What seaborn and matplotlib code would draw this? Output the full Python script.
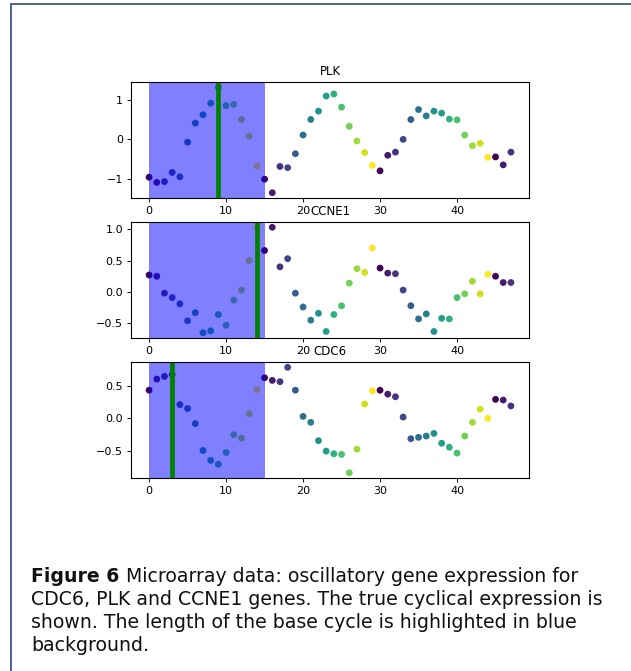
import matplotlib
matplotlib.use("Agg")
import matplotlib.pyplot as plt
from matplotlib.lines import Line2D
import pandas as pd
import seaborn as sns

# Time index of each microarray sample
time_points = list(range(48))
# Length of the base cycle (highlighted span and colour cycle)
cycle_length = 15

genes = ["PLK", "CCNE1", "CDC6"]

plk = [-0.95, -1.08, -1.06, -0.83, -0.94, -0.07, 0.41, 0.62, 0.91, 1.31,
       0.85, 0.88, 0.50, 0.08, -0.67, -1.00, -1.34, -0.68, -0.71, -0.36,
       0.11, 0.50, 0.71, 1.09, 1.14, 0.81, 0.33, -0.04, -0.33, -0.65,
       -0.79, -0.40, -0.32, 0.00, 0.50, 0.75, 0.59, 0.71, 0.66, 0.51,
       0.49, 0.11, -0.16, -0.10, -0.45, -0.44, -0.64, -0.32]

ccne1 = [0.27, 0.25, -0.02, -0.09, -0.19, -0.46, -0.33, -0.65, -0.62, -0.36,
         -0.53, -0.13, 0.03, 0.50, 1.03, 0.66, 1.03, 0.40, 0.53, -0.02,
         -0.24, -0.45, -0.34, -0.63, -0.36, -0.22, 0.14, 0.37, 0.31, 0.70,
         0.38, 0.30, 0.29, 0.03, -0.22, -0.43, -0.35, -0.63, -0.42, -0.43,
         -0.09, -0.03, 0.17, -0.03, 0.28, 0.25, 0.15, 0.15]

cdc6 = [0.43, 0.60, 0.64, 0.67, 0.21, 0.15, -0.08, -0.49, -0.64, -0.70,
        -0.52, -0.25, -0.30, 0.07, 0.44, 0.62, 0.58, 0.56, 0.78, 0.43,
        0.03, -0.06, -0.34, -0.50, -0.54, -0.55, -0.83, -0.47, 0.22, 0.42,
        0.43, 0.37, 0.33, 0.02, -0.31, -0.29, -0.27, -0.23, -0.38, -0.44,
        -0.53, -0.27, -0.06, 0.14, 0.00, 0.29, 0.28, 0.19]

# Estimated position of the true cyclical expression for each gene
true_phase = [9, 14, 3]

x_ticks = [0, 10, 20, 30, 40]
y_ticks = [[-1, 0, 1], [-0.5, 0.0, 0.5, 1.0], [-0.5, 0.0, 0.5]]

caption_lines = [
    ("Figure 6", "Microarray data: oscillatory gene expression for"),
    ("", "CDC6, PLK and CCNE1 genes. The true cyclical expression is"),
    ("", "shown. The length of the base cycle is highlighted in blue"),
    ("", "background."),
]

series = [plk, ccne1, cdc6]

plt.rcParams.update({
    "font.family": "DejaVu Sans",
    "font.size": 8,
    "axes.titlesize": 8.5,
    "axes.linewidth": 0.8,
    "xtick.labelsize": 8,
    "ytick.labelsize": 8,
    "xtick.major.size": 2.8,
    "ytick.major.size": 2.8,
    "xtick.major.width": 0.65,
    "ytick.major.width": 0.65,
    "xtick.major.pad": 2.8,
    "ytick.major.pad": 2.8,
    "axes.titlepad": 4.8,
})

fig = plt.figure(figsize=(6.31, 6.71), dpi=100)
axes = fig.subplots(3, 1)
fig.subplots_adjust(left=0.2076, right=0.8384, top=0.8778, bottom=0.2876,
                    hspace=0.207)

for ax, gene, values, phase, yt in zip(axes, genes, series, true_phase, y_ticks):
    df = pd.DataFrame({
        "time": time_points,
        "expression": values,
        "cycle_position": [t % cycle_length for t in time_points],
    })
    sns.scatterplot(data=df, x="time", y="expression", hue="cycle_position",
                    palette="viridis", s=24, linewidth=0, legend=False, ax=ax)
    ax.axvspan(0, cycle_length, color="blue", alpha=0.5, linewidth=0)
    ax.axvline(phase, color="green", linewidth=3.4)
    ax.set_title(gene)
    ax.set_xlabel("")
    ax.set_ylabel("")
    ax.set_xticks(x_ticks)
    ax.set_yticks(yt)

# Document frame around the figure
frame_color = "#4d6488"
fig.add_artist(Line2D([10.5 / 631, 1.0], [1 - 4 / 671, 1 - 4 / 671],
                      transform=fig.transFigure, color=frame_color, linewidth=1.4))
fig.add_artist(Line2D([10.5 / 631, 10.5 / 631], [0.0, 1 - 4 / 671],
                      transform=fig.transFigure, color=frame_color, linewidth=1.4))

# Caption
fig.canvas.draw()
renderer = fig.canvas.get_renderer()
cap_x = 31 / 631
cap_size = 13.6
baseline = 582
for bold, rest in caption_lines:
    y = 1 - baseline / 671
    x = cap_x
    if bold:
        t = fig.text(x, y, bold, fontsize=cap_size, fontweight="bold",
                     va="baseline", ha="left", color="#111111")
        bb = t.get_window_extent(renderer)
        x = (bb.x1 + 7) / fig.bbox.width
    fig.text(x, y, rest, fontsize=cap_size, va="baseline", ha="left",
             color="#111111")
    baseline += 23

fig.savefig("out.png", dpi=100)
